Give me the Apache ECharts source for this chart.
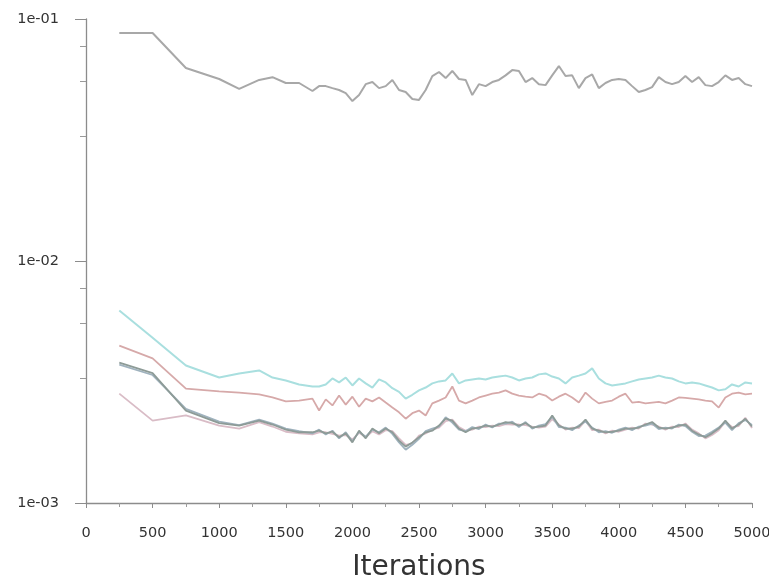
<!DOCTYPE html>
<html>
<head>
<meta charset="utf-8">
<script src="https://cdn.jsdelivr.net/npm/echarts@6/dist/echarts.min.js"></script>
<style>
html,body{margin:0;padding:0;background:#fff;}
#chart{width:769px;height:584px;}
</style>
</head>
<body>
<div id="chart"></div>
<script>
// ---- data ----
const iterations = [250,500,750,1000,1150,1300,1400,1500,1600,
  1700,1750,1800,1850,1900,1950,2000,2050,2100,2150,
  2200,2250,2300,2350,2400,2450,2500,2550,2600,2650,
  2700,2750,2800,2850,2900,2950,3000,3050,3100,3150,
  3200,3250,3300,3350,3400,3450,3500,3550,3600,3650,
  3700,3750,3800,3850,3900,3950,4000,4050,4100,4150,
  4200,4250,4300,4350,4400,4450,4500,4550,4600,4650,
  4700,4750,4800,4850,4900,4950,5000];

const seriesTop = [8.75e-2,8.75e-2,6.27e-2,5.65e-2,5.14e-2,5.60e-2,5.75e-2,5.44e-2,5.44e-2,
  5.04e-2,5.28e-2,5.28e-2,5.18e-2,5.09e-2,4.94e-2,4.58e-2,4.85e-2,5.38e-2,5.49e-2,
  5.18e-2,5.28e-2,5.60e-2,5.09e-2,4.99e-2,4.67e-2,4.63e-2,5.09e-2,5.81e-2,6.04e-2,
  5.70e-2,6.10e-2,5.65e-2,5.60e-2,4.85e-2,5.38e-2,5.28e-2,5.49e-2,5.60e-2,5.85e-2,
  6.15e-2,6.10e-2,5.49e-2,5.70e-2,5.38e-2,5.33e-2,5.85e-2,6.39e-2,5.81e-2,5.85e-2,
  5.18e-2,5.70e-2,5.90e-2,5.18e-2,5.44e-2,5.60e-2,5.65e-2,5.60e-2,5.28e-2,4.99e-2,
  5.09e-2,5.23e-2,5.75e-2,5.49e-2,5.38e-2,5.49e-2,5.81e-2,5.49e-2,5.75e-2,5.33e-2,
  5.28e-2,5.49e-2,5.85e-2,5.60e-2,5.70e-2,5.38e-2,5.28e-2];

const seriesCyan = [6.24e-3,4.82e-3,3.70e-3,3.30e-3,3.43e-3,3.53e-3,3.30e-3,3.21e-3,3.09e-3,
  3.03e-3,3.03e-3,3.09e-3,3.27e-3,3.15e-3,3.30e-3,3.06e-3,3.27e-3,3.12e-3,3.00e-3,
  3.24e-3,3.15e-3,2.98e-3,2.88e-3,2.70e-3,2.80e-3,2.92e-3,3.00e-3,3.12e-3,3.18e-3,
  3.21e-3,3.43e-3,3.12e-3,3.21e-3,3.24e-3,3.27e-3,3.24e-3,3.30e-3,3.33e-3,3.36e-3,
  3.30e-3,3.21e-3,3.27e-3,3.30e-3,3.40e-3,3.43e-3,3.33e-3,3.27e-3,3.12e-3,3.30e-3,
  3.36e-3,3.43e-3,3.60e-3,3.27e-3,3.12e-3,3.06e-3,3.09e-3,3.12e-3,3.18e-3,3.24e-3,
  3.27e-3,3.30e-3,3.36e-3,3.30e-3,3.27e-3,3.18e-3,3.12e-3,3.15e-3,3.12e-3,3.06e-3,
  3.00e-3,2.92e-3,2.95e-3,3.09e-3,3.03e-3,3.15e-3,3.12e-3];

const seriesRed = [4.47e-3,3.96e-3,2.97e-3,2.89e-3,2.86e-3,2.81e-3,2.73e-3,2.63e-3,2.65e-3,
  2.70e-3,2.41e-3,2.68e-3,2.53e-3,2.78e-3,2.55e-3,2.75e-3,2.50e-3,2.70e-3,2.63e-3,
  2.73e-3,2.60e-3,2.48e-3,2.37e-3,2.23e-3,2.35e-3,2.41e-3,2.30e-3,2.58e-3,2.65e-3,
  2.73e-3,3.03e-3,2.65e-3,2.58e-3,2.65e-3,2.73e-3,2.78e-3,2.83e-3,2.86e-3,2.92e-3,
  2.83e-3,2.78e-3,2.75e-3,2.73e-3,2.83e-3,2.78e-3,2.65e-3,2.75e-3,2.83e-3,2.73e-3,
  2.60e-3,2.86e-3,2.70e-3,2.58e-3,2.62e-3,2.65e-3,2.75e-3,2.83e-3,2.60e-3,2.62e-3,
  2.58e-3,2.60e-3,2.62e-3,2.58e-3,2.65e-3,2.73e-3,2.72e-3,2.70e-3,2.68e-3,2.65e-3,
  2.63e-3,2.48e-3,2.73e-3,2.83e-3,2.86e-3,2.81e-3,2.83e-3];

const seriesDark = [3.80e-3,3.44e-3,2.41e-3,2.14e-3,2.09e-3,2.19e-3,2.11e-3,2.01e-3,1.96e-3,
  1.96e-3,1.99e-3,1.94e-3,1.97e-3,1.87e-3,1.94e-3,1.78e-3,1.99e-3,1.85e-3,2.03e-3,
  1.94e-3,2.03e-3,1.96e-3,1.81e-3,1.71e-3,1.78e-3,1.87e-3,1.96e-3,1.99e-3,2.09e-3,
  2.23e-3,2.19e-3,2.03e-3,1.96e-3,2.03e-3,2.05e-3,2.09e-3,2.07e-3,2.11e-3,2.16e-3,
  2.14e-3,2.09e-3,2.14e-3,2.05e-3,2.07e-3,2.09e-3,2.30e-3,2.09e-3,2.03e-3,2.03e-3,
  2.07e-3,2.21e-3,2.03e-3,1.99e-3,1.96e-3,1.97e-3,1.99e-3,2.03e-3,2.03e-3,2.05e-3,
  2.11e-3,2.16e-3,2.05e-3,2.03e-3,2.05e-3,2.09e-3,2.11e-3,1.99e-3,1.92e-3,1.87e-3,
  1.94e-3,2.03e-3,2.19e-3,2.03e-3,2.11e-3,2.23e-3,2.07e-3];

const seriesSlate = [3.73e-3,3.38e-3,2.45e-3,2.17e-3,2.10e-3,2.21e-3,2.13e-3,2.03e-3,1.98e-3,
  1.94e-3,2.01e-3,1.92e-3,1.99e-3,1.85e-3,1.96e-3,1.80e-3,1.97e-3,1.88e-3,2.01e-3,
  1.96e-3,2.05e-3,1.93e-3,1.78e-3,1.66e-3,1.74e-3,1.84e-3,1.98e-3,2.03e-3,2.07e-3,
  2.26e-3,2.15e-3,2.01e-3,1.98e-3,2.06e-3,2.02e-3,2.11e-3,2.05e-3,2.13e-3,2.13e-3,
  2.17e-3,2.06e-3,2.16e-3,2.03e-3,2.09e-3,2.12e-3,2.27e-3,2.06e-3,2.05e-3,2.00e-3,
  2.09e-3,2.17e-3,2.05e-3,1.96e-3,1.98e-3,1.95e-3,2.01e-3,2.05e-3,2.00e-3,2.07e-3,
  2.09e-3,2.13e-3,2.02e-3,2.05e-3,2.03e-3,2.11e-3,2.08e-3,1.97e-3,1.89e-3,1.90e-3,
  1.97e-3,2.05e-3,2.15e-3,2.00e-3,2.14e-3,2.20e-3,2.10e-3];

const seriesPink = [2.83e-3,2.19e-3,2.30e-3,2.09e-3,2.03e-3,2.16e-3,2.07e-3,1.97e-3,1.94e-3,
  1.92e-3,1.96e-3,1.96e-3,1.93e-3,1.90e-3,1.91e-3,1.83e-3,1.95e-3,1.87e-3,1.98e-3,
  1.92e-3,2.00e-3,1.98e-3,1.85e-3,1.74e-3,1.76e-3,1.90e-3,1.94e-3,2.01e-3,2.05e-3,
  2.18e-3,2.21e-3,2.06e-3,1.99e-3,2.01e-3,2.07e-3,2.06e-3,2.09e-3,2.08e-3,2.12e-3,
  2.11e-3,2.11e-3,2.10e-3,2.07e-3,2.05e-3,2.07e-3,2.22e-3,2.11e-3,2.01e-3,2.05e-3,
  2.04e-3,2.19e-3,2.00e-3,2.01e-3,1.94e-3,1.99e-3,1.97e-3,2.01e-3,2.05e-3,2.03e-3,
  2.13e-3,2.11e-3,2.07e-3,2.01e-3,2.07e-3,2.06e-3,2.13e-3,2.01e-3,1.94e-3,1.85e-3,
  1.91e-3,2.00e-3,2.17e-3,2.06e-3,2.08e-3,2.25e-3,2.04e-3];

const xTicks = [0,500,1000,1500,2000,2500,3000,3500,4000,4500,5000];
const yTickValues = [1e-3, 1e-2, 1e-1];
const yTickLabels = ['1e-03', '1e-02', '1e-01'];
const yMinorTicks = [7.74e-2, 5.54e-2, 3.29e-2, 7.74e-3, 5.54e-3, 3.29e-3];
const xAxisTitle = 'Iterations';

// ---- chart ----
const seriesDefs = [
  {name: 'top',   data: seriesTop,   color: '#a8a8a8', width: 2},
  {name: 'cyan',  data: seriesCyan,  color: '#a9dfdf', width: 2},
  {name: 'red',   data: seriesRed,   color: '#d6a9a9', width: 1.8},
  {name: 'pink',  data: seriesPink,  color: '#d9bcc6', width: 1.8},
  {name: 'slate', data: seriesSlate, color: '#9fb2be', width: 1.8},
  {name: 'dark',  data: seriesDark,  color: '#8d9b97', width: 1.8}
];

function labelFor(v) {
  const e = Math.round(Math.log10(v));
  const idx = yTickValues.findIndex(t => Math.round(Math.log10(t)) === e);
  return idx >= 0 ? yTickLabels[idx] : '';
}

const chart = echarts.init(document.getElementById('chart'), null, {renderer: 'canvas'});
chart.setOption({
  animation: false,
  backgroundColor: '#ffffff',
  grid: {left: 86, right: 17, top: 19, bottom: 81, containLabel: false, outerBoundsMode: 'none'},
  xAxis: {
    type: 'value',
    min: xTicks[0],
    max: xTicks[xTicks.length - 1],
    interval: 500,
    name: xAxisTitle,
    nameLocation: 'middle',
    nameGap: 51,
    nameTextStyle: {fontFamily: 'DejaVu Sans', fontSize: 28, color: '#333'},
    axisLine: {show: true, lineStyle: {color: '#8c8c8c', width: 1.3}},
    axisTick: {show: true, length: 5, lineStyle: {color: '#8c8c8c'}},
    minorTick: {show: true, splitNumber: 2, length: 4, lineStyle: {color: '#9c9c9c'}},
    axisLabel: {fontFamily: 'DejaVu Sans', fontSize: 14.5, color: '#333', margin: 23,
      formatter: v => String(v)},
    splitLine: {show: false}
  },
  yAxis: [{
    type: 'log',
    logBase: 10,
    min: yTickValues[0],
    max: yTickValues[yTickValues.length - 1],
    axisLine: {show: true, lineStyle: {color: '#8c8c8c', width: 1.3}},
    axisTick: {show: true, length: 11, lineStyle: {color: '#8c8c8c'}},
    axisLabel: {fontFamily: 'DejaVu Sans', fontSize: 14.5, color: '#333', margin: 27,
      formatter: labelFor},
    splitLine: {show: false}
  }, {
    type: 'log',
    logBase: 10,
    position: 'left',
    min: yTickValues[0],
    max: yTickValues[yTickValues.length - 1],
    axisLine: {show: false},
    axisTick: {show: true, inside: false, length: 6, customValues: yMinorTicks, lineStyle: {color: '#9a9a9a'}},
    axisLabel: {show: false},
    splitLine: {show: false}
  }],
  series: seriesDefs.map(s => ({
    name: s.name,
    type: 'line',
    yAxisIndex: 0,
    data: iterations.map((it, i) => [it, s.data[i]]),
    showSymbol: false,
    symbol: 'none',
    lineStyle: {color: s.color, width: s.width},
    itemStyle: {color: s.color},
    emphasis: {disabled: true}
  }))
});
</script>
</body>
</html>
